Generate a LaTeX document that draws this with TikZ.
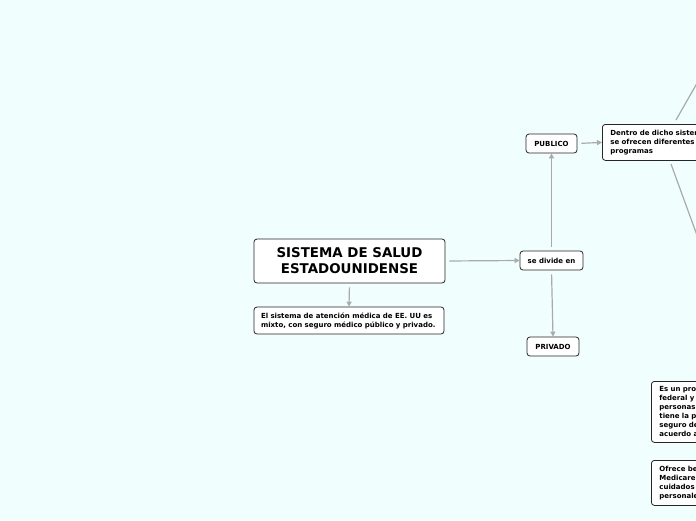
\documentclass[tikz,border=0pt]{standalone}
\usepackage{fontspec}
\setmainfont{DejaVu Sans}
\usetikzlibrary{arrows.meta}
\definecolor{bgc}{HTML}{F0FEFE}
\definecolor{edgec}{HTML}{AAAAAA}
\begin{document}
\begin{tikzpicture}[x=1pt,y=-1pt,
  box/.style={draw=black!85,fill=white,rounded corners=3pt,line width=0.8pt,
    font=\bfseries\fontsize{7}{9}\selectfont,inner sep=0pt},
  conn/.style={draw=edgec,line width=1.2pt,-{Triangle[length=5pt,width=5pt]},shorten <=4pt},
  line/.style={draw=edgec,line width=1.2pt}]
\useasboundingbox (0,0) rectangle (696,520);
\fill[bgc] (0,0) rectangle (696,520);
\clip (0,0) rectangle (696,520);
\node[box,minimum width=191pt,minimum height=44pt,align=center,
  font=\bfseries\fontsize{13.4}{16}\selectfont] (main) at (349.5,261)
  {SISTEMA DE SALUD\\ESTADOUNIDENSE};
\node[box,minimum width=190pt,minimum height=27pt,align=left,text width=176pt] (desc) at (349,320.5)
  {El sistema de atención médica de EE. UU es\\mixto, con seguro médico público y privado.};
\node[box,minimum width=63pt,minimum height=19pt] (div) at (551.5,260.5) {se divide en};
\node[box,minimum width=51pt,minimum height=19pt] (pub) at (551.5,143.5) {PUBLICO};
\node[box,minimum width=52pt,minimum height=19pt] (priv) at (553,346.5) {PRIVADO};
\node[box,anchor=north west,minimum width=130pt,minimum height=36pt,text width=114pt,
  align=left,inner xsep=8pt,inner ysep=5pt] (dentro) at (602,124)
  {Dentro de dicho sistema\\se ofrecen diferentes\\programas};
\node[box,anchor=north west,minimum width=130pt,minimum height=61pt,text width=114pt,
  align=left,inner xsep=8pt,inner ysep=4pt] (esun) at (651,381)
  {Es un pro\\federal y\\personas\\tiene la p\\seguro de\\acuerdo a};
\node[box,anchor=north west,minimum width=130pt,minimum height=45pt,text width=114pt,
  align=left,inner xsep=8pt,inner ysep=5pt] (ofrece) at (651,460)
  {Ofrece be\\Medicare\\cuidados\\personale};
\coordinate (up) at (716,50);
\coordinate (down) at (706,260);
\draw[conn] (main.east) -- (div.west);
\draw[conn] (main.south) -- (desc.north);
\draw[conn] (div.north) -- (pub.south);
\draw[conn] (div.south) -- (priv.north);
\draw[conn] (pub.east) -- (dentro.west);
\draw[line] (676,120) -- (up);
\draw[line] (671,164) -- (down);
\end{tikzpicture}
\end{document}
